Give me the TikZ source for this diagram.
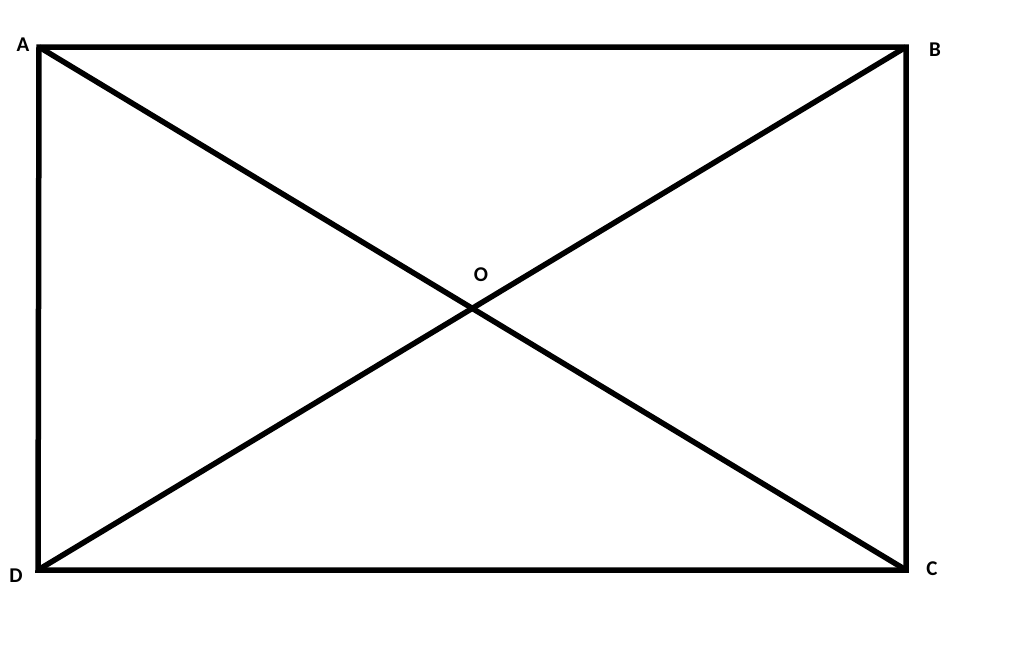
\documentclass[tikz,border=0pt]{standalone}
\usepackage{fontspec}
\setmainfont{Carlito}
\begin{document}
\begin{tikzpicture}[x=1pt, y=-1pt, line width=5.5pt,
    lbl/.style={font=\bfseries\fontsize{21}{21}\selectfont, inner sep=0pt}]
    \useasboundingbox (0,0) rectangle (1024,657);

    \coordinate (A) at (39,47);
    \coordinate (B) at (906,47);
    \coordinate (C) at (906,570);
    \coordinate (D) at (38,570);

    \draw (A) -- (B) -- (C) -- (D) -- cycle;
    \draw (A) -- (C);
    \draw (B) -- (D);

    \node[lbl] (a) at (23,45) {A};
    \node[lbl] (b) at (935,50) {B};
    \node[lbl] (c) at (932,569) {C};
    \node[lbl] (d) at (16,576) {D};
    \node[lbl] (o) at (481,275) {O};
\end{tikzpicture}
\end{document}
